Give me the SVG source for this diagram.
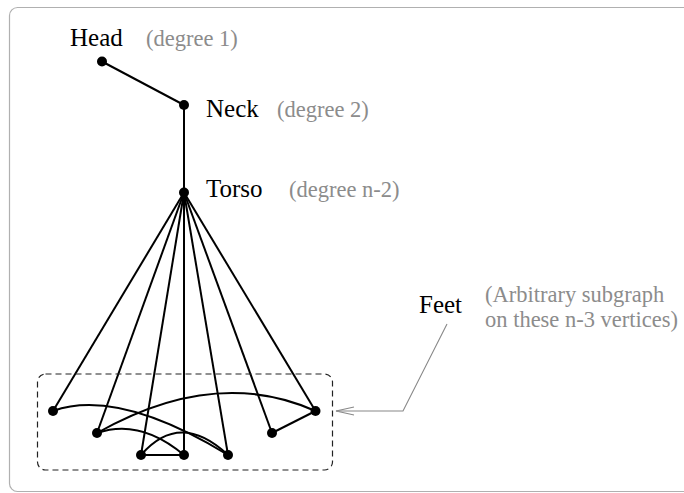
<svg xmlns="http://www.w3.org/2000/svg" width="684" height="493" viewBox="0 0 684 493">
<style>
.frame{fill:none;stroke:#b0b0b0;stroke-width:1.2}
.edge{fill:none;stroke:#000;stroke-width:2}
.node{fill:#000}
.lbl{font-family:"Liberation Serif","Times New Roman",serif;font-size:25px;fill:#000}
.note{font-family:"Liberation Serif","Times New Roman",serif;font-size:22.5px;fill:#8c8c8c}
.box{fill:none;stroke:#222;stroke-width:1.2;stroke-dasharray:6,4}
.pointer{fill:none;stroke:#888;stroke-width:1.1}
</style>
<rect class="frame" x="9.5" y="7.5" width="700" height="484" rx="8"/>
<g id="connectors">
<line class="edge" x1="102" y1="61.5" x2="184" y2="105"/>
<line class="edge" x1="184" y1="105" x2="184" y2="192.5"/>
<line class="edge" x1="184" y1="192.5" x2="53" y2="411"/>
<line class="edge" x1="184" y1="192.5" x2="97" y2="433"/>
<line class="edge" x1="184" y1="192.5" x2="141" y2="455"/>
<line class="edge" x1="184" y1="192.5" x2="184" y2="455"/>
<line class="edge" x1="184" y1="192.5" x2="228" y2="455"/>
<line class="edge" x1="184" y1="192.5" x2="272" y2="433"/>
<line class="edge" x1="184" y1="192.5" x2="315.5" y2="411"/>
<path class="edge" d="M53,411 Q118,388 228,455"/>
<path class="edge" d="M97,433 Q215,366 315.5,411"/>
<path class="edge" d="M97,433 Q140,418 184,455"/>
<path class="edge" d="M141,455 Q180,410 228,455"/>
<line class="edge" x1="141" y1="455" x2="184" y2="455"/>
<line class="edge" x1="272" y1="433" x2="315.5" y2="411"/>
<path class="pointer" d="M447,324 L403,411 L336,411"/>
<path class="pointer" d="M354,407 L336,411 L354,415"/>
</g>
<g id="head"><circle class="node" cx="102" cy="61.5" r="5"/><text class="lbl" x="70" y="46">Head</text><text class="note" x="146" y="46">(degree 1)</text></g>
<g id="neck"><circle class="node" cx="184" cy="105" r="5"/><text class="lbl" x="206" y="117">Neck</text><text class="note" x="277" y="117">(degree 2)</text></g>
<g id="torso"><circle class="node" cx="184" cy="192.5" r="5"/><text class="lbl" x="206" y="197">Torso</text><text class="note" x="289" y="197">(degree n-2)</text></g>
<g id="feet">
<rect class="box" x="37.5" y="374" width="295" height="96" rx="8"/>
<circle class="node" cx="53" cy="411" r="5"/>
<circle class="node" cx="97" cy="433" r="5"/>
<circle class="node" cx="141" cy="455" r="5"/>
<circle class="node" cx="184" cy="455" r="5"/>
<circle class="node" cx="228" cy="455" r="5"/>
<circle class="node" cx="272" cy="433" r="5"/>
<circle class="node" cx="315.5" cy="411" r="5"/>
<text class="lbl" x="419" y="313">Feet</text>
<text class="note" x="485" y="302">(Arbitrary subgraph</text>
<text class="note" x="485" y="327">on these n-3 vertices)</text>
</g>
</svg>
